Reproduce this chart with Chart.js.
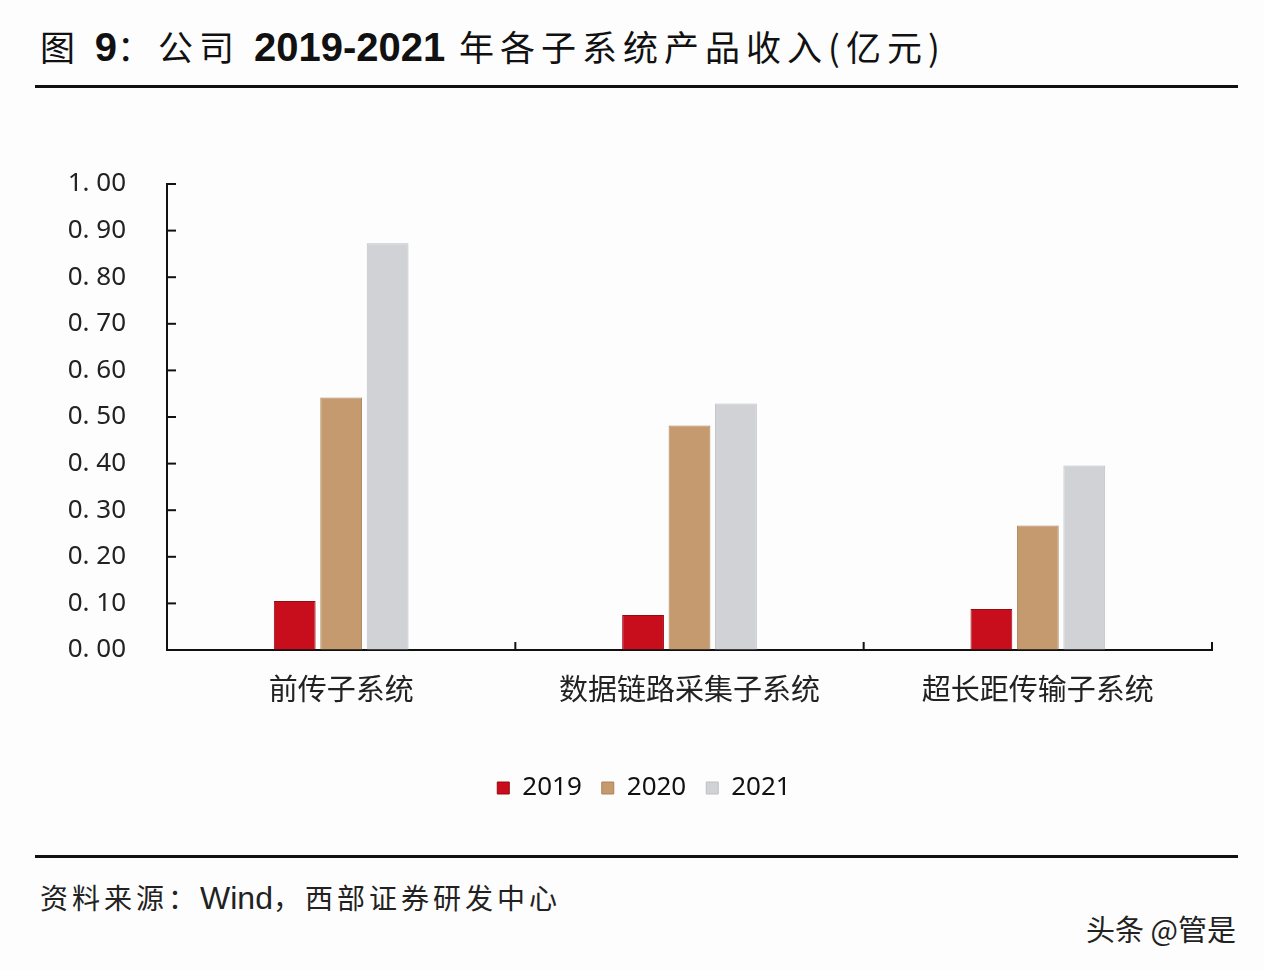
<!DOCTYPE html>
<html>
<head>
<meta charset="utf-8">
<script src="https://cdn.jsdelivr.net/npm/chart.js@4"></script>
<style>
  body { margin: 0; background: #fdfdfd; width: 1264px; height: 970px; position: relative; overflow: hidden; }
  .titulo { position: absolute; left: 40px; top: 20px; font: 35px "Noto Sans CJK SC"; letter-spacing: 6px; color: #111; white-space: nowrap; }
  .titulo b { font-family: "Liberation Sans"; font-size: 40px; font-weight: bold; letter-spacing: 0; }
  .linea { position: absolute; left: 35px; width: 1203px; height: 3px; background: #111; }
  .fuente { position: absolute; left: 40px; top: 877px; font: 28px "Noto Sans CJK SC"; letter-spacing: 4px; color: #222; }
  .fuente span { font-family: "Liberation Sans"; font-size: 32px; letter-spacing: 0; }
  .marca { position: absolute; right: 28px; top: 907px; font: 29px "Noto Sans CJK SC"; color: #222; }
  #caja { position: absolute; left: 0; top: 150px; width: 1264px; height: 680px; }
</style>
</head>
<body>
<div class="titulo">图 <b>9</b>：公司 <b>2019-2021</b> 年各子系统产品收入(亿元)</div>
<div class="linea" style="top:85px"></div>
<div id="caja"><canvas id="grafica"></canvas></div>
<div class="linea" style="top:855px"></div>
<div class="fuente">资料来源：<span>Wind</span>，西部证券研发中心</div>
<div class="marca">头条 @管是</div>
<script>
const categorias = ['前传子系统', '数据链路采集子系统', '超长距传输子系统'];
const anios = ['2019', '2020', '2021'];
const ingresos_2019 = [0.105, 0.075, 0.088];
const ingresos_2020 = [0.542, 0.482, 0.267];
const ingresos_2021 = [0.873, 0.529, 0.396];

// ticks cortos hacia adentro, como en el original
const ticksAdentro = {
  id: 'ticksAdentro',
  afterLayout(chart) {
    // la leyenda del original queda un poco a la derecha
    chart.legend.left += 38;
    chart.legend.right += 38;
  },
  afterDraw(chart) {
    const {ctx, chartArea, scales} = chart;
    ctx.save();
    ctx.strokeStyle = '#111';
    ctx.lineWidth = 2;
    scales.y.ticks.forEach(t => {
      const y = scales.y.getPixelForValue(t.value);
      ctx.beginPath();
      ctx.moveTo(chartArea.left, y);
      ctx.lineTo(chartArea.left + 9, y);
      ctx.stroke();
    });
    const paso = chartArea.width / categorias.length;
    for (let i = 1; i <= categorias.length; i++) {
      const x = scales.x.getPixelForValue(i - 1) + paso / 2;
      ctx.beginPath();
      ctx.moveTo(x, chartArea.bottom);
      ctx.lineTo(x, chartArea.bottom - 8);
      ctx.stroke();
    }
    ctx.restore();
  }
};

const ctx = document.getElementById('grafica').getContext('2d');

new Chart(ctx, {
  type: 'bar',
  data: {
    labels: categorias,
    datasets: [
      {
        label: anios[0],
        data: ingresos_2019,
        backgroundColor: 'rgba(200, 14, 28, 1)',
        borderColor: 'rgba(150, 10, 20, 1)',
        borderWidth: 1,
      },
      {
        label: anios[1],
        data: ingresos_2020,
        backgroundColor: 'rgba(196, 154, 110, 1)',
        borderColor: 'rgba(170, 130, 90, 1)',
        borderWidth: 1,
      },
      {
        label: anios[2],
        data: ingresos_2021,
        backgroundColor: 'rgba(208, 210, 213, 1)',
        borderColor: 'rgba(190, 192, 196, 1)',
        borderWidth: 1,
      }
    ]
  },
  plugins: [ticksAdentro],
  options: {
    responsive: true,
    maintainAspectRatio: false,
    animation: false,
    datasets: {
      bar: { categoryPercentage: 0.4, barPercentage: 0.9 }
    },
    layout: { padding: { top: 34, right: 52, left: 0, bottom: 19 } },
    plugins: {
      legend: {
        display: true,
        position: 'bottom',
        labels: {
          boxWidth: 12,
          boxHeight: 12,
          padding: 20,
          color: '#111',
          font: { family: 'Noto Sans', size: 26 }
        }
      },
      tooltip: { enabled: false }
    },
    scales: {
      x: {
        grid: { display: false },
        border: { display: true, color: '#111', width: 2 },
        ticks: {
          padding: 14,
          color: '#222',
          font: { family: 'Noto Sans CJK SC', size: 29 }
        },
        afterFit(scale) { scale.height = 105; }
      },
      y: {
        min: 0,
        max: 1,
        grid: {
          display: true,
          drawOnChartArea: false,
          drawTicks: true,
          tickLength: 41,
          color: 'rgba(0, 0, 0, 0)'
        },
        border: { display: true, color: '#111', width: 2 },
        ticks: {
          stepSize: 0.1,
          padding: 0,
          color: '#222',
          font: { family: 'Noto Sans', size: 26 },
          callback: v => v.toFixed(2).replace('.', '. ')
        },
        afterFit(scale) { scale.width = 167; }
      }
    }
  }
});
</script>
</body>
</html>
